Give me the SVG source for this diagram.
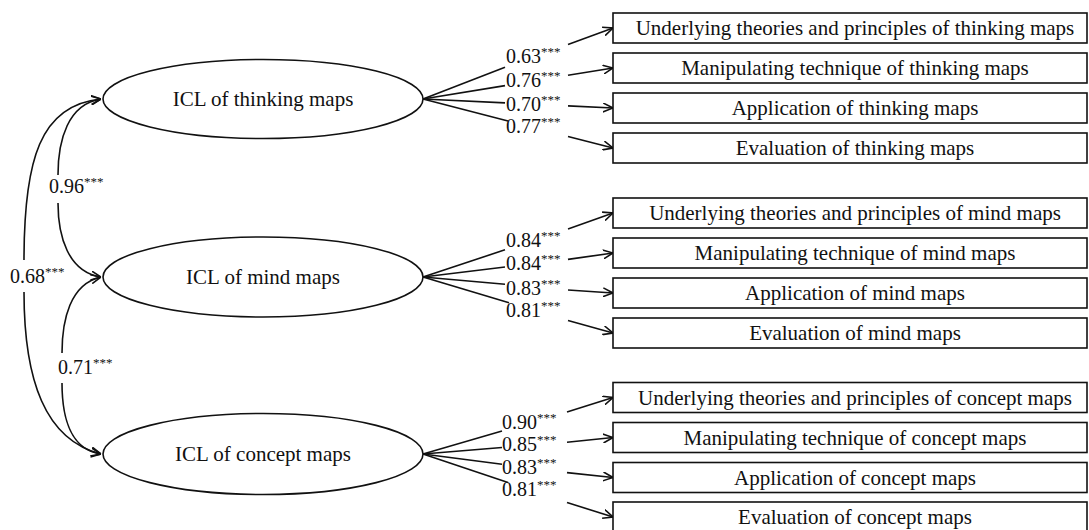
<svg xmlns="http://www.w3.org/2000/svg" width="1089" height="530" viewBox="0 0 1089 530">
<style>
text{font-family:"Liberation Serif","Times New Roman",serif;fill:#111}
.nt{font-size:21px;text-anchor:middle}
.lb{font-size:20px}
.st{font-size:13px}
.el,.bx{fill:#fff;stroke:#111;stroke-width:1.6}
.ln{fill:none;stroke:#111;stroke-width:1.6}
.ar{marker-end:url(#ah)}
.ab{marker-start:url(#ah)}
</style>
<defs>
<marker id="ah" viewBox="0 0 10 10" refX="10" refY="5" markerWidth="10" markerHeight="10" markerUnits="userSpaceOnUse" orient="auto-start-reverse">
<path d="M0,0.5 L10,5 L0,9.5" fill="none" stroke="#111" stroke-width="1.6"/>
</marker>
</defs>
<g id="connectors">
<path class="ln ab" d="M101,99 C68,104 58,140 58,175"/>
<path class="ln ar" d="M58,203 C58,236 68,272 101,277"/>
<path class="ln ab" d="M101,277 C70,284 62,320 62,353"/>
<path class="ln ar" d="M62,383 C62,420 72,450 101,454"/>
<path class="ln ab" d="M101,99 C40,105 24,160 24,260"/>
<path class="ln ar" d="M24,292 C24,380 45,440 101,454"/>
<path class="ln" d="M423,99 L505,67.2"/><path class="ln ar" d="M568,44.4 L613,28"/>
<path class="ln" d="M423,99 L505,85.6"/><path class="ln ar" d="M568,75.3 L613,68"/>
<path class="ln" d="M423,99 L505,102.9"/><path class="ln ar" d="M568,105.9 L613,108"/>
<path class="ln" d="M423,99 L508,120.9"/><path class="ln ar" d="M568,136.4 L613,148"/>
<path class="ln" d="M423,277 L505,249.8"/><path class="ln ar" d="M568,228.9 L613,213"/>
<path class="ln" d="M423,277 L505,267"/><path class="ln ar" d="M568,259.4 L613,253"/>
<path class="ln" d="M423,277 L505,284.3"/><path class="ln ar" d="M568,290 L613,293"/>
<path class="ln" d="M423,277 L509,302.8"/><path class="ln ar" d="M568,320.5 L613,333"/>
<path class="ln" d="M423,454 L502,431"/><path class="ln ar" d="M567,412 L613,397.5"/>
<path class="ln" d="M423,454 L502,447.5"/><path class="ln ar" d="M567,442.2 L613,437.5"/>
<path class="ln" d="M423,454 L502,464.2"/><path class="ln ar" d="M567,472.6 L613,477.5"/>
<path class="ln" d="M423,454 L508,482.6"/><path class="ln ar" d="M567,502.5 L613,517"/>
</g>
<g id="connector-labels">
<text class="lb" x="49" y="193">0.96<tspan class="st" dy="-7">***</tspan></text>
<text class="lb" x="58" y="374">0.71<tspan class="st" dy="-7">***</tspan></text>
<text class="lb" x="10" y="283">0.68<tspan class="st" dy="-7">***</tspan></text>
<text class="lb" x="506" y="63">0.63<tspan class="st" dy="-7">***</tspan></text>
<text class="lb" x="506" y="87">0.76<tspan class="st" dy="-7">***</tspan></text>
<text class="lb" x="506" y="111">0.70<tspan class="st" dy="-7">***</tspan></text>
<text class="lb" x="506" y="133">0.77<tspan class="st" dy="-7">***</tspan></text>
<text class="lb" x="506" y="247">0.84<tspan class="st" dy="-7">***</tspan></text>
<text class="lb" x="506" y="270">0.84<tspan class="st" dy="-7">***</tspan></text>
<text class="lb" x="506" y="295">0.83<tspan class="st" dy="-7">***</tspan></text>
<text class="lb" x="506" y="317">0.81<tspan class="st" dy="-7">***</tspan></text>
<text class="lb" x="502" y="429">0.90<tspan class="st" dy="-7">***</tspan></text>
<text class="lb" x="502" y="451">0.85<tspan class="st" dy="-7">***</tspan></text>
<text class="lb" x="502" y="474">0.83<tspan class="st" dy="-7">***</tspan></text>
<text class="lb" x="502" y="496">0.81<tspan class="st" dy="-7">***</tspan></text>
</g>
<g id="icl-thinking"><ellipse class="el" cx="263" cy="99" rx="160" ry="39.5"/><text class="nt" x="263" y="106">ICL of thinking maps</text></g>
<g id="icl-mind"><ellipse class="el" cx="263" cy="277" rx="160" ry="40"/><text class="nt" x="263" y="284">ICL of mind maps</text></g>
<g id="icl-concept"><ellipse class="el" cx="263" cy="454" rx="160" ry="40.5"/><text class="nt" x="263" y="461">ICL of concept maps</text></g>
<g id="t1"><rect class="bx" x="613" y="13" width="474" height="30"/><text class="nt" x="855" y="35">Underlying theories and principles of thinking maps</text></g>
<g id="t2"><rect class="bx" x="613" y="53" width="474" height="30"/><text class="nt" x="855" y="75">Manipulating technique of thinking maps</text></g>
<g id="t3"><rect class="bx" x="613" y="93" width="474" height="30"/><text class="nt" x="855" y="115">Application of thinking maps</text></g>
<g id="t4"><rect class="bx" x="613" y="133" width="474" height="30"/><text class="nt" x="855" y="155">Evaluation of thinking maps</text></g>
<g id="m1"><rect class="bx" x="613" y="198" width="474" height="30"/><text class="nt" x="855" y="220">Underlying theories and principles of mind maps</text></g>
<g id="m2"><rect class="bx" x="613" y="238" width="474" height="30"/><text class="nt" x="855" y="260">Manipulating technique of mind maps</text></g>
<g id="m3"><rect class="bx" x="613" y="278" width="474" height="30"/><text class="nt" x="855" y="300">Application of mind maps</text></g>
<g id="m4"><rect class="bx" x="613" y="318" width="474" height="30"/><text class="nt" x="855" y="340">Evaluation of mind maps</text></g>
<g id="c1"><rect class="bx" x="613" y="382.5" width="474" height="30"/><text class="nt" x="855" y="405">Underlying theories and principles of concept maps</text></g>
<g id="c2"><rect class="bx" x="613" y="422.5" width="474" height="30"/><text class="nt" x="855" y="445">Manipulating technique of concept maps</text></g>
<g id="c3"><rect class="bx" x="613" y="462.5" width="474" height="30"/><text class="nt" x="855" y="485">Application of concept maps</text></g>
<g id="c4"><rect class="bx" x="613" y="502" width="474" height="30"/><text class="nt" x="855" y="524">Evaluation of concept maps</text></g>
</svg>
